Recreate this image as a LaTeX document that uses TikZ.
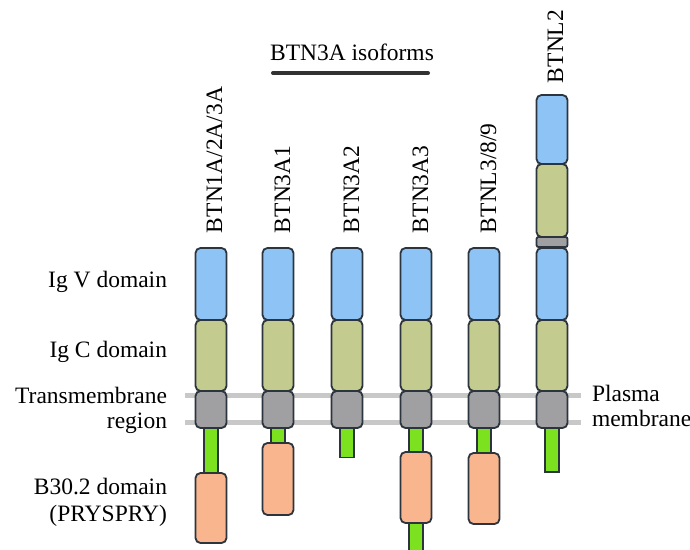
\documentclass[tikz,border=0pt]{standalone}
\usepackage{fontspec}
\setmainfont{Liberation Serif}
\begin{document}
\begin{tikzpicture}[x=1pt,y=-1pt,
  every node/.style={inner sep=0pt,outer sep=0pt},
  lbl/.style={font=\fontsize{23.5}{26}\selectfont,align=right,anchor=east},
  rlbl/.style={font=\fontsize{23.5}{26}\selectfont,rotate=90,anchor=base west},
  dom/.style={draw=edgec,line width=1.8pt,rounded corners=5pt,minimum width=31pt},
  stem/.style={draw=edgec,line width=1.6pt,fill=stemc,minimum width=14pt},
  igv/.style={dom,fill=igvc},
  igc/.style={dom,fill=igcc},
  tmr/.style={dom,fill=tmc},
  bth/.style={dom,fill=btc},
  memline/.style={line width=5pt,draw=memc}]
\definecolor{edgec}{RGB}{44,52,62}
\definecolor{igvc}{RGB}{142,196,245}
\definecolor{igcc}{RGB}{196,203,142}
\definecolor{tmc}{RGB}{160,160,162}
\definecolor{btc}{RGB}{249,182,142}
\definecolor{stemc}{RGB}{124,226,32}
\definecolor{memc}{RGB}{200,200,200}
\definecolor{barc}{RGB}{50,50,50}
\useasboundingbox (0,0) rectangle (690,549);

% plasma membrane
\coordinate (mA1) at (185,395);
\coordinate (mB1) at (581,395);
\coordinate (mA2) at (185,422);
\coordinate (mB2) at (581,422);
\draw[memline] (mA1) -- (mB1);
\draw[memline] (mA2) -- (mB2);

% cytoplasmic stems (behind the domains)
\node[stem,minimum height=50pt] (s1) at (211,450) {};
\node[stem,minimum height=20pt] (s2) at (278,436) {};
\node[stem,minimum height=31pt] (s3) at (347,442) {};
\node[stem,minimum height=30pt] (s4) at (416,440) {};
\node[stem,minimum height=36pt] (s4b) at (416,540) {};
\node[stem,minimum height=30pt] (s5) at (484,441) {};
\node[stem,minimum height=46pt] (s6) at (552,449) {};

% column 1: BTN1A/2A/3A
\node[igv,minimum height=72pt] (v1) at (211,284) {};
\node[igc,minimum height=71pt] (c1) at (211,355.5) {};
\node[tmr,minimum height=37pt] (t1) at (211,409.5) {};
\node[bth,minimum height=70pt] (b1) at (211,508) {};

% column 2: BTN3A1
\node[igv,minimum height=72pt] (v2) at (278,284) {};
\node[igc,minimum height=71pt] (c2) at (278,355.5) {};
\node[tmr,minimum height=37pt] (t2) at (278,409.5) {};
\node[bth,minimum height=72pt] (b2) at (278,479) {};

% column 3: BTN3A2
\node[igv,minimum height=72pt] (v3) at (347,284) {};
\node[igc,minimum height=71pt] (c3) at (347,355.5) {};
\node[tmr,minimum height=37pt] (t3) at (347,409.5) {};

% column 4: BTN3A3
\node[igv,minimum height=72pt] (v4) at (416,284) {};
\node[igc,minimum height=71pt] (c4) at (416,355.5) {};
\node[tmr,minimum height=37pt] (t4) at (416,409.5) {};
\node[bth,minimum height=71pt] (b4) at (416,487.5) {};

% column 5: BTNL3/8/9
\node[igv,minimum height=72pt] (v5) at (484,284) {};
\node[igc,minimum height=71pt] (c5) at (484,355.5) {};
\node[tmr,minimum height=37pt] (t5) at (484,409.5) {};
\node[bth,minimum height=71pt] (b5) at (484,488.5) {};

% column 6: BTNL2
\node[igv,minimum height=69pt] (v6a) at (552,129.5) {};
\node[igc,minimum height=73pt] (c6a) at (552,200.5) {};
\node[tmr,minimum height=10pt,rounded corners=2pt] (t6a) at (552,242) {};
\node[igv,minimum height=72pt] (v6) at (552,284) {};
\node[igc,minimum height=71pt] (c6) at (552,355.5) {};
\node[tmr,minimum height=37pt] (t6) at (552,409.5) {};

% protein names
\node[rlbl] (n1) at (222,233) {BTN1A/2A/3A};
\node[rlbl] (n2) at (290,233) {BTN3A1};
\node[rlbl] (n3) at (359,233) {BTN3A2};
\node[rlbl] (n4) at (428,233) {BTN3A3};
\node[rlbl] (n5) at (496,233) {BTNL3/8/9};
\node[rlbl] (n6) at (563,83) {BTNL2};

% isoform group
\node[font=\fontsize{23.5}{26}\selectfont,anchor=base] (iso) at (352,60) {BTN3A isoforms};
\coordinate (bl) at (273,73);
\coordinate (br) at (428,73);
\draw[line width=4pt,draw=barc,line cap=round] (bl) -- (br);

% domain legend
\node[lbl,anchor=base east] (lv) at (167,287) {Ig V domain};
\node[lbl,anchor=base east] (lc) at (167,357) {Ig C domain};
\node[lbl,anchor=base east] (lt) at (167,403) {Transmembrane};
\node[lbl,anchor=base east] (lt2) at (167,428) {region};
\node[lbl,anchor=base east] (lb) at (167,494) {B30.2 domain};
\node[lbl,anchor=base east] (lb2) at (167,521) {(PRYSPRY)};
\node[font=\fontsize{23.5}{26}\selectfont,anchor=base west] (pm) at (592,401) {Plasma};
\node[font=\fontsize{23.5}{26}\selectfont,anchor=base west] (pm2) at (592,426) {membrane};
\end{tikzpicture}
\end{document}
